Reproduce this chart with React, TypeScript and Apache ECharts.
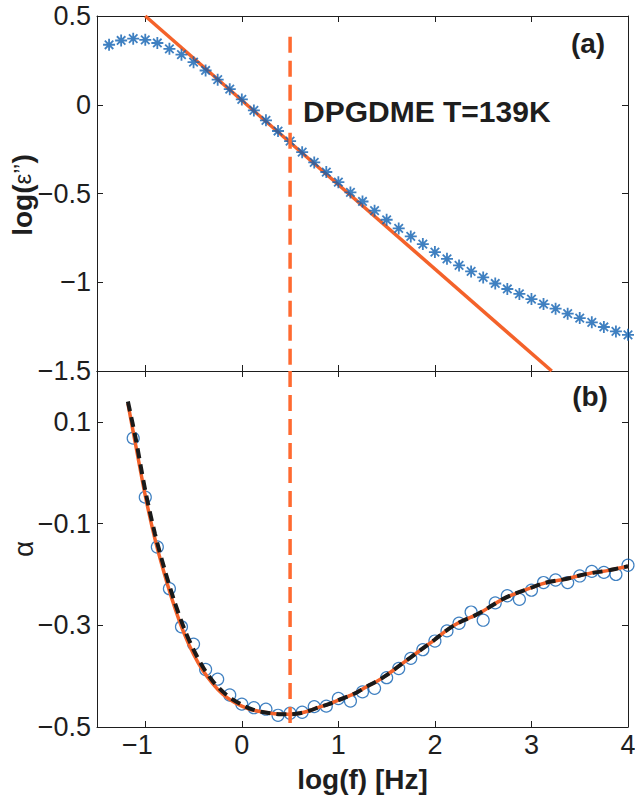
import React, { useEffect, useRef } from 'react';
import * as echarts from 'echarts';

// ---------- data ----------
const topLogF = [-1.375, -1.25, -1.125, -1, -0.875, -0.75, -0.625, -0.5, -0.375, -0.25, -0.125, 0, 0.125, 0.25, 0.375, 0.5, 0.625, 0.75, 0.875, 1, 1.125, 1.25, 1.375, 1.5, 1.625, 1.75, 1.875, 2, 2.125, 2.25, 2.375, 2.5, 2.625, 2.75, 2.875, 3, 3.125, 3.25, 3.375, 3.5, 3.625, 3.75, 3.875, 4];
const logEps2 = [0.338, 0.362, 0.372, 0.366, 0.348, 0.315, 0.282, 0.24, 0.193, 0.141, 0.088, 0.03, -0.032, -0.088, -0.148, -0.205, -0.267, -0.325, -0.379, -0.436, -0.494, -0.545, -0.597, -0.648, -0.697, -0.742, -0.785, -0.83, -0.868, -0.905, -0.939, -0.973, -1.007, -1.038, -1.066, -1.095, -1.123, -1.149, -1.177, -1.202, -1.226, -1.252, -1.277, -1.296];

const powerLawX = [-1.0, 3.21];
const powerLawY = [0.5, -1.5];

const alphaLogF = [-1.125, -1, -0.875, -0.75, -0.625, -0.5, -0.375, -0.25, -0.125, 0, 0.125, 0.25, 0.375, 0.5, 0.625, 0.75, 0.875, 1, 1.125, 1.25, 1.375, 1.5, 1.625, 1.75, 1.875, 2, 2.125, 2.25, 2.375, 2.5, 2.625, 2.75, 2.875, 3, 3.125, 3.25, 3.375, 3.5, 3.625, 3.75, 3.875, 4];
const alphaVals = [0.068, -0.048, -0.146, -0.228, -0.303, -0.337, -0.387, -0.406, -0.437, -0.455, -0.462, -0.465, -0.477, -0.473, -0.471, -0.46, -0.459, -0.444, -0.449, -0.431, -0.424, -0.403, -0.385, -0.365, -0.348, -0.331, -0.311, -0.296, -0.274, -0.29, -0.256, -0.242, -0.249, -0.231, -0.216, -0.211, -0.216, -0.203, -0.194, -0.196, -0.2, -0.182];

const fitLogF = [-1.18, -1.1, -1.0, -0.9, -0.8, -0.7, -0.6, -0.5, -0.4, -0.3, -0.2, -0.1, 0, 0.1, 0.2, 0.3, 0.4, 0.5, 0.6, 0.7, 0.8, 0.9, 1.0, 1.1, 1.2, 1.3, 1.4, 1.5, 1.6, 1.7, 1.8, 1.9, 2.0, 2.1, 2.2, 2.3, 2.4, 2.5, 2.6, 2.7, 2.8, 2.9, 3.0, 3.1, 3.2, 3.3, 3.4, 3.5, 3.6, 3.7, 3.8, 3.9, 4.0];
const fitOrange = [0.136, 0.055, -0.045, -0.13, -0.2, -0.262, -0.315, -0.357, -0.39, -0.415, -0.435, -0.449, -0.459, -0.466, -0.47, -0.473, -0.475, -0.475, -0.473, -0.468, -0.461, -0.455, -0.447, -0.44, -0.431, -0.42, -0.41, -0.398, -0.384, -0.37, -0.356, -0.342, -0.328, -0.313, -0.3, -0.29, -0.282, -0.272, -0.26, -0.249, -0.24, -0.233, -0.226, -0.219, -0.214, -0.211, -0.207, -0.202, -0.198, -0.195, -0.192, -0.188, -0.184];
const fitBlack = [0.14, 0.068, -0.035, -0.12, -0.19, -0.252, -0.305, -0.348, -0.383, -0.41, -0.43, -0.445, -0.456, -0.465, -0.47, -0.473, -0.475, -0.475, -0.473, -0.468, -0.461, -0.455, -0.447, -0.44, -0.431, -0.42, -0.41, -0.398, -0.384, -0.37, -0.356, -0.342, -0.328, -0.313, -0.3, -0.29, -0.282, -0.272, -0.26, -0.249, -0.24, -0.233, -0.226, -0.219, -0.214, -0.211, -0.207, -0.202, -0.198, -0.195, -0.192, -0.188, -0.184];

const markerLogF = 0.5;
const markerTopY = [0.383, -1.5];
const markerBottomY = [0.2, -0.5];

const xRange = [-1.5, 4];
const yTopRange = [-1.5, 0.5];
const yBottomRange = [-0.5, 0.2];

const titleText = 'DPGDME T=139K';
const panelLabels = ['(a)', '(b)'];
const xName = 'log(f) [Hz]';
const yTopName = '{b|log(}{e|\u03b5\u2019\u2019}{b|)}';
const yBottomName = '\u03b1';

// ---------- styles ----------
const FONT = '"Liberation Sans", Arial, Helvetica, sans-serif';
const BLUE = '#0f60b2';
const ORANGE = '#f4622a';
const DASH_ORANGE = '#ff6a30';
const INK = '#1e1e1e';
const TICK_FS = 27;
const ASTERISK = 'path://M0,6L12,6M6,0L6,12M1.76,1.76L10.24,10.24M10.24,1.76L1.76,10.24';

const fmt = (v: number) => {
  const s = String(Math.round(v * 100) / 100);
  return s.replace('-', '\u2212');
};

const zip = (xs: number[], ys: number[]) => xs.map((x, i) => [x, ys[i]]);

export default function App() {
  const ref = useRef<HTMLDivElement>(null);
  useEffect(() => {
    if (!ref.current) return;
    const chart = echarts.init(ref.current, undefined, { renderer: 'svg' });
    const axisLine = { show: true, onZero: false, lineStyle: { color: INK, width: 1 } };
    const axisTick = { show: true, inside: true, length: 6, lineStyle: { color: INK, width: 1 } };
    const noLabel = { show: false };
    const noSplit = { show: false };
    const tickLabel = { show: true, fontSize: TICK_FS, color: INK, fontFamily: FONT };

    const xAx = (gridIndex: number, position: string, label: any) => ({
      type: 'value', gridIndex, position, min: xRange[0], max: xRange[1],
      axisLine, axisTick, axisLabel: label, splitLine: noSplit,
    });

    const option: any = {
      animation: false,
      backgroundColor: '#ffffff',
      grid: [
        { left: 97, right: 7, top: 16, height: 355, containLabel: false, outerBoundsMode: 'none' },
        { left: 97, right: 7, top: 371, height: 356, containLabel: false, outerBoundsMode: 'none' },
      ],
      xAxis: [
        xAx(0, 'bottom', noLabel),
        xAx(0, 'top', noLabel),
        xAx(1, 'bottom', {
          ...tickLabel, margin: 6, lineHeight: 23,
          formatter: (v: number) => {
            const r = Math.round(v * 1000) / 1000;
            if (!Number.isInteger(r)) return '';
            return r < 0 ? `{neg|${fmt(r)}}` : fmt(r);
          },
          rich: {
            neg: { fontSize: TICK_FS, lineHeight: 23, color: INK, fontFamily: FONT, padding: [0, 16, 0, 0] },
          },
        }),
        xAx(1, 'top', noLabel),
      ],
      yAxis: [
        {
          type: 'value', gridIndex: 0, position: 'left', min: yTopRange[0], max: yTopRange[1], interval: 0.5,
          axisLine, axisTick, splitLine: noSplit,
          axisLabel: { ...tickLabel, margin: 6, formatter: fmt },
        },
        {
          type: 'value', gridIndex: 0, position: 'right', min: yTopRange[0], max: yTopRange[1], interval: 0.5,
          axisLine, axisTick, splitLine: noSplit, axisLabel: noLabel,
        },
        {
          type: 'value', gridIndex: 1, position: 'left', min: yBottomRange[0], max: yBottomRange[1], interval: 0.2,
          axisLine, axisTick, splitLine: noSplit,
          axisLabel: {
            ...tickLabel, margin: 6,
            formatter: (v: number) => (Math.abs(v - yBottomRange[1]) < 1e-6 ? '' : fmt(v)),
          },
        },
        {
          type: 'value', gridIndex: 1, position: 'right', min: yBottomRange[0], max: yBottomRange[1], interval: 0.2,
          axisLine, axisTick, splitLine: noSplit, axisLabel: noLabel,
        },
      ],
      series: [
        {
          type: 'line', xAxisIndex: 0, yAxisIndex: 0, data: zip(powerLawX, powerLawY),
          showSymbol: false, symbol: 'none', lineStyle: { color: ORANGE, width: 3.5 }, z: 2,
        },
        {
          type: 'scatter', xAxisIndex: 0, yAxisIndex: 0, data: zip(topLogF, logEps2),
          symbol: ASTERISK, symbolSize: 12,
          itemStyle: { color: 'rgba(0,0,0,0)', borderColor: BLUE, borderWidth: 1.8 }, z: 3,
        },
        {
          type: 'line', xAxisIndex: 0, yAxisIndex: 0,
          data: markerTopY.map((y) => [markerLogF, y]),
          symbol: 'none', lineStyle: { color: DASH_ORANGE, width: 3.5, type: [16, 8] }, z: 4,
        },
        {
          type: 'scatter', xAxisIndex: 2, yAxisIndex: 2, data: zip(alphaLogF, alphaVals),
          symbol: 'circle', symbolSize: 12,
          itemStyle: { color: 'rgba(0,0,0,0)', borderColor: BLUE, borderWidth: 1.2 }, z: 2,
        },
        {
          type: 'line', xAxisIndex: 2, yAxisIndex: 2, data: zip(fitLogF, fitOrange), smooth: 0.3,
          symbol: 'none', lineStyle: { color: ORANGE, width: 3.5 }, z: 3,
        },
        {
          type: 'line', xAxisIndex: 2, yAxisIndex: 2, data: zip(fitLogF, fitBlack), smooth: 0.3,
          symbol: 'none', lineStyle: { color: '#1a1a1a', width: 4, type: [10, 6] }, z: 4,
        },
        {
          type: 'line', xAxisIndex: 2, yAxisIndex: 2,
          data: markerBottomY.map((y) => [markerLogF, y]),
          symbol: 'none', lineStyle: { color: DASH_ORANGE, width: 3.5, type: [16, 8] }, z: 5,
        },
      ],
      graphic: [
        {
          type: 'text', x: 303, y: 111, z: 10,
          style: { text: titleText, fontSize: 30, fontWeight: 'bold', fontFamily: FONT, fill: INK, align: 'left', verticalAlign: 'middle' },
        },
        {
          type: 'text', x: 588, y: 43, z: 10,
          style: { text: panelLabels[0], fontSize: 28, fontWeight: 'bold', fontFamily: FONT, fill: INK, align: 'center', verticalAlign: 'middle' },
        },
        {
          type: 'text', x: 590, y: 396, z: 10,
          style: { text: panelLabels[1], fontSize: 28, fontWeight: 'bold', fontFamily: FONT, fill: INK, align: 'center', verticalAlign: 'middle' },
        },
        {
          type: 'text', x: 362.5, y: 779, z: 10,
          style: { text: xName, fontSize: 28, lineHeight: 24, fontWeight: 'bold', fontFamily: FONT, fill: INK, align: 'center', verticalAlign: 'middle' },
        },
        {
          type: 'text', x: 22, y: 195, rotation: Math.PI / 2, z: 10,
          style: {
            text: yTopName, fontFamily: FONT, fill: INK, align: 'center', verticalAlign: 'middle',
            rich: {
              b: { fontSize: 28, fontWeight: 'bold', fill: INK, fontFamily: FONT },
              e: { fontSize: 24, fontWeight: 'normal', fill: INK, fontFamily: FONT },
            },
          },
        },
        {
          type: 'text', x: 23, y: 549, rotation: Math.PI / 2, z: 10,
          style: { text: yBottomName, fontSize: 28, fontFamily: FONT, fill: INK, align: 'center', verticalAlign: 'middle' },
        },
      ],
    };
    chart.setOption(option);
    return () => chart.dispose();
  }, []);
  return (
    <div
      ref={ref}
      style={{ position: 'fixed', left: 0, top: 0, width: 635, height: 797, background: '#fff' }}
    />
  );
}
